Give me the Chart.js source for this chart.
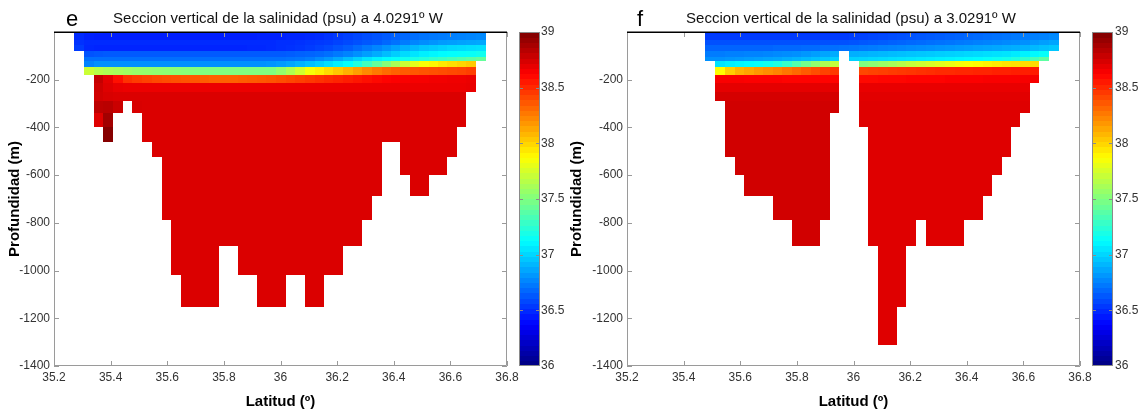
<!DOCTYPE html>
<html>
<head>
<meta charset="utf-8">
<title>Seccion vertical de la salinidad</title>
<script src="https://cdn.jsdelivr.net/npm/chart.js@4.4.1/dist/chart.umd.min.js"></script>
<style>
  html, body { margin: 0; padding: 0; background: #ffffff; }
  #wrap { position: relative; width: 1142px; height: 415px; overflow: hidden; background: #ffffff; }
  #wrap canvas { position: absolute; top: 0; display: block; }
</style>
</head>
<body>
<div id="wrap">
  <canvas id="panelE" width="566" height="415" style="left:0px"></canvas>
  <canvas id="panelF" width="576" height="415" style="left:566px"></canvas>
</div>
<script>
const _ = null;

// latitude cell edges (deg N), same grid in both sections
const latEdges = [35.2717, 35.3060, 35.3413, 35.3741, 35.4095, 35.4434, 35.4755, 35.5116, 35.5462, 35.5801,
  35.6133, 35.6490, 35.6815, 35.7143, 35.7482, 35.7821, 35.8157, 35.8496, 35.8821, 35.9171,
  35.9503, 35.9845, 36.0185, 36.0527, 36.0880, 36.1202, 36.1523, 36.1866, 36.2198, 36.2558,
  36.2887, 36.3229, 36.3569, 36.3911, 36.4211, 36.4558, 36.4893, 36.5232, 36.5567, 36.5889,
  36.6232, 36.6567, 36.6921, 36.7242];

// depth cell edges (m)
const depthEdges = [0, 10, 32, 53, 78, 103, 123, 148, 180, 213, 251, 290, 340, 398, 461, 526, 600, 689, 787, 897, 1017, 1154, 1310];

const xTicks = [35.2, 35.4, 35.6, 35.8, 36, 36.2, 36.4, 36.6, 36.8];
const yTicks = [-1400, -1200, -1000, -800, -600, -400, -200];
const cbTicks = [36, 36.5, 37, 37.5, 38, 38.5, 39];
const panelLetters = ['e', 'f'];
const panelTitles = ['Seccion vertical de la salinidad (psu) a 4.0291º W', 'Seccion vertical de la salinidad (psu) a 3.0291º W'];
const axisTitles = ['Latitud (º)', 'Profundidad (m)'];

// salinity (psu), section e (4.0291 W): one row per depth cell, one value per latitude cell
const salE = [
[36.50,36.48,36.48,36.47,36.47,36.47,36.47,36.47,36.47,36.47, 36.47,36.47,36.47,36.47,36.47,36.47,36.47,36.47,36.47,36.47, 36.48,36.48,36.48,36.49,36.49,36.50,36.51,36.53,36.55,36.57, 36.59,36.61,36.63,36.65,36.67,36.69,36.70,36.71,36.72,36.73, 36.74,36.75,36.76],
[36.50,36.47,36.46,36.46,36.46,36.46,36.46,36.46,36.46,36.46, 36.46,36.46,36.46,36.46,36.46,36.46,36.46,36.46,36.46,36.47, 36.47,36.47,36.48,36.48,36.49,36.50,36.52,36.54,36.56,36.58, 36.60,36.62,36.64,36.66,36.68,36.70,36.72,36.73,36.74,36.75, 36.76,36.77,36.78],
[36.52,36.50,36.50,36.50,36.50,36.50,36.50,36.50,36.50,36.50, 36.50,36.50,36.50,36.50,36.50,36.50,36.50,36.50,36.50,36.50, 36.50,36.51,36.51,36.52,36.53,36.54,36.55,36.57,36.59,36.61, 36.63,36.65,36.68,36.71,36.74,36.77,36.79,36.81,36.83,36.84, 36.85,36.86,36.87],
[36.55,36.49,36.48,36.48,36.48,36.48,36.48,36.48,36.48,36.48, 36.48,36.48,36.48,36.48,36.48,36.48,36.48,36.48,36.49,36.49, 36.50,36.51,36.52,36.53,36.55,36.57,36.59,36.62,36.65,36.69, 36.73,36.77,36.81,36.85,36.89,36.92,36.95,36.97,36.99,37.01, 37.02,37.03,37.04],
[_,36.62,36.63,36.64,36.64,36.64,36.64,36.64,36.64,36.64, 36.64,36.64,36.64,36.64,36.64,36.64,36.64,36.64,36.64,36.64, 36.64,36.64,36.65,36.66,36.67,36.68,36.70,36.73,36.76,36.80, 36.84,36.88,36.93,36.98,37.02,37.05,37.08,37.10,37.12,37.13, 37.14,37.15,37.17],
[_,36.70,36.70,36.70,36.70,36.70,36.70,36.70,36.70,36.70, 36.70,36.70,36.70,36.70,36.70,36.70,36.70,36.70,36.70,36.70, 36.70,36.70,36.71,36.72,36.74,36.78,36.82,36.87,36.93,36.99, 37.05,37.09,37.12,37.14,37.17,37.20,37.23,37.27,37.30,37.33, 37.36,37.39,37.42],
[_,36.76,36.80,36.80,36.80,36.80,36.80,36.80,36.80,36.80, 36.80,36.80,36.80,36.80,36.80,36.80,36.80,36.80,36.80,36.80, 36.81,36.83,36.86,36.90,36.94,36.98,37.03,37.08,37.13,37.22, 37.32,37.42,37.52,37.62,37.72,37.80,37.86,37.90,37.94,37.97, 38.00,38.03,_],
[_,37.72,37.66,37.63,37.61,37.59,37.57,37.56,37.55,37.54, 37.53,37.52,37.51,37.50,37.50,37.50,37.50,37.50,37.50,37.50, 37.50,37.56,37.64,37.74,37.85,37.92,37.98,38.04,38.10,38.16, 38.22,38.27,38.31,38.34,38.36,38.37,38.38,38.39,38.40,38.41, 38.42,38.44,_],
[_,_,38.80,38.70,38.58,38.48,38.45,38.43,38.41,38.40, 38.39,38.38,38.37,38.35,38.34,38.34,38.34,38.35,38.36,38.37, 38.38,38.40,38.42,38.44,38.46,38.48,38.50,38.52,38.54,38.56, 38.58,38.60,38.62,38.63,38.64,38.65,38.65,38.66,38.66,38.67, 38.67,38.68,_],
[_,_,38.77,38.72,38.69,38.68,38.68,38.68,38.68,38.68, 38.68,38.68,38.68,38.68,38.68,38.68,38.68,38.68,38.68,38.68, 38.68,38.68,38.68,38.68,38.68,38.68,38.68,38.68,38.68,38.68, 38.68,38.68,38.68,38.68,38.68,38.68,38.68,38.68,38.68,38.68, 38.68,38.69,_],
[_,_,38.76,38.74,38.73,38.73,38.73,38.73,38.73,38.73, 38.73,38.73,38.73,38.73,38.73,38.73,38.73,38.73,38.73,38.73, 38.73,38.73,38.73,38.73,38.73,38.73,38.73,38.73,38.73,38.73, 38.73,38.73,38.73,38.73,38.73,38.73,38.73,38.73,38.73,38.73, 38.73,_,_],
[_,_,38.82,38.83,38.78,_,38.74,38.73,38.73,38.73, 38.73,38.73,38.73,38.73,38.73,38.73,38.73,38.73,38.73,38.73, 38.73,38.73,38.73,38.73,38.73,38.73,38.73,38.73,38.73,38.73, 38.73,38.73,38.73,38.73,38.73,38.73,38.73,38.73,38.73,38.73, 38.73,_,_],
[_,_,38.72,38.90,_,_,_,38.73,38.73,38.73, 38.73,38.73,38.73,38.73,38.73,38.73,38.73,38.73,38.73,38.73, 38.73,38.73,38.73,38.73,38.73,38.73,38.73,38.73,38.73,38.73, 38.73,38.73,38.73,38.73,38.73,38.73,38.73,38.73,38.73,38.73, 38.73,_,_],
[_,_,_,38.98,_,_,_,38.73,38.73,38.73, 38.73,38.73,38.73,38.73,38.73,38.73,38.73,38.73,38.73,38.73, 38.73,38.73,38.73,38.73,38.73,38.73,38.73,38.73,38.73,38.73, 38.73,38.73,38.73,38.73,38.73,38.73,38.73,38.73,38.73,38.73, _,_,_],
[_,_,_,_,_,_,_,_,38.73,38.73, 38.73,38.73,38.73,38.73,38.73,38.73,38.73,38.73,38.73,38.73, 38.73,38.73,38.73,38.73,38.73,38.73,38.73,38.73,38.73,38.73, 38.73,38.73,_,_,38.73,38.73,38.73,38.73,38.73,38.73, _,_,_],
[_,_,_,_,_,_,_,_,_,38.73, 38.73,38.73,38.73,38.73,38.73,38.73,38.73,38.73,38.73,38.73, 38.73,38.73,38.73,38.73,38.73,38.73,38.73,38.73,38.73,38.73, 38.73,38.73,_,_,38.73,38.73,38.73,38.73,38.73,_, _,_,_],
[_,_,_,_,_,_,_,_,_,38.73, 38.73,38.73,38.73,38.73,38.73,38.73,38.73,38.73,38.73,38.73, 38.73,38.73,38.73,38.73,38.73,38.73,38.73,38.73,38.73,38.73, 38.73,38.73,_,_,_,38.73,38.73,_,_,_, _,_,_],
[_,_,_,_,_,_,_,_,_,38.73, 38.73,38.73,38.73,38.73,38.73,38.73,38.73,38.73,38.73,38.73, 38.73,38.73,38.73,38.73,38.73,38.73,38.73,38.73,38.73,38.73, 38.73,_,_,_,_,_,_,_,_,_, _,_,_],
[_,_,_,_,_,_,_,_,_,_, 38.73,38.73,38.73,38.73,38.73,38.73,38.73,38.73,38.73,38.73, 38.73,38.73,38.73,38.73,38.73,38.73,38.73,38.73,38.73,38.73, _,_,_,_,_,_,_,_,_,_, _,_,_],
[_,_,_,_,_,_,_,_,_,_, 38.73,38.73,38.73,38.73,38.73,_,_,38.73,38.73,38.73, 38.73,38.73,38.73,38.73,38.73,38.73,38.73,38.73,_,_, _,_,_,_,_,_,_,_,_,_, _,_,_],
[_,_,_,_,_,_,_,_,_,_, _,38.73,38.73,38.73,38.73,_,_,_,_,38.73, 38.73,38.73,_,_,38.73,38.73,_,_,_,_, _,_,_,_,_,_,_,_,_,_, _,_,_],
[_,_,_,_,_,_,_,_,_,_, _,_,_,_,_,_,_,_,_,_, _,_,_,_,_,_,_,_,_,_, _,_,_,_,_,_,_,_,_,_, _,_,_]
];

// salinity (psu), section f (3.0291 W)
const salF = [
[_,_,_,_,_,_,36.53,36.52,36.52,36.52, 36.52,36.52,36.52,36.52,36.52,36.52,36.52,36.52,36.52,36.52, 36.52,36.53,36.53,36.54,36.55,36.56,36.57,36.58,36.59,36.60, 36.61,36.62,36.63,36.64,36.65,36.66,36.67,36.68,36.69,36.70, 36.71,36.72,36.74],
[_,_,_,_,_,_,36.55,36.55,36.55,36.55, 36.55,36.55,36.55,36.55,36.55,36.55,36.55,36.55,36.55,36.55, 36.55,36.56,36.57,36.58,36.59,36.60,36.61,36.62,36.63,36.64, 36.65,36.66,36.67,36.68,36.69,36.70,36.71,36.72,36.73,36.74, 36.75,36.76,36.78],
[_,_,_,_,_,_,36.61,36.61,36.61,36.61, 36.61,36.61,36.61,36.61,36.61,36.61,36.61,36.61,36.61,36.61, 36.61,36.62,36.63,36.64,36.65,36.66,36.67,36.68,36.69,36.70, 36.71,36.72,36.73,36.74,36.75,36.76,36.77,36.78,36.79,36.80, 36.82,36.84,36.86],
[_,_,_,_,_,_,36.67,36.67,36.67,36.67, 36.67,36.67,36.67,36.68,36.68,36.68,36.69,36.69,36.70,36.70, 36.71,36.72,36.73,36.74,36.75,36.76,36.77,36.78,36.79,36.80, 36.81,36.82,36.83,36.84,36.85,36.86,36.87,36.88,36.89,36.90, 36.92,36.94,36.96],
[_,_,_,_,_,_,36.74,36.74,36.75,36.75, 36.76,36.76,36.77,36.78,36.79,36.80,36.82,36.84,36.86,36.88, _,36.89,36.90,36.91,36.92,36.93,36.94,36.95,36.96,36.97, 36.98,36.99,37.00,37.01,37.02,37.03,37.04,37.05,37.07,37.09, 37.11,37.14,_],
[_,_,_,_,_,_,36.80,36.80,36.81,36.82, 36.83,36.84,36.85,36.86,36.88,36.90,36.92,36.94,36.96,36.98, _,36.99,37.00,37.01,37.02,37.03,37.04,37.05,37.06,37.07, 37.08,37.09,37.10,37.11,37.12,37.14,37.16,37.18,37.22,37.27, 37.33,37.40,_],
[_,_,_,_,_,_,_,37.05,37.08,37.10, 37.12,37.14,37.17,37.21,37.28,37.37,37.46,37.55,37.63,37.70, _,_,37.50,37.54,37.58,37.62,37.66,37.70,37.73,37.76, 37.79,37.82,37.85,37.87,37.89,37.91,37.93,37.95,37.96,37.97, 37.98,_,_],
[_,_,_,_,_,_,_,37.88,38.02,38.10, 38.14,38.18,38.21,38.24,38.28,38.32,38.36,38.40,38.43,38.46, _,_,38.42,38.43,38.44,38.45,38.46,38.47,38.48,38.49, 38.50,38.50,38.51,38.51,38.52,38.52,38.53,38.53,38.54,38.54, 38.55,_,_],
[_,_,_,_,_,_,_,38.64,38.64,38.64, 38.63,38.63,38.63,38.63,38.62,38.62,38.62,38.62,38.62,38.62, _,_,38.60,38.60,38.61,38.61,38.61,38.62,38.62,38.62, 38.62,38.63,38.63,38.63,38.63,38.64,38.64,38.64,38.64,38.65, 38.65,_,_],
[_,_,_,_,_,_,_,38.70,38.70,38.70, 38.70,38.70,38.70,38.70,38.70,38.70,38.70,38.70,38.70,38.70, _,_,38.69,38.69,38.69,38.69,38.69,38.69,38.69,38.69, 38.69,38.69,38.69,38.69,38.69,38.69,38.69,38.69,38.69,38.69, _,_,_],
[_,_,_,_,_,_,_,38.75,38.75,38.75, 38.75,38.75,38.75,38.75,38.75,38.75,38.75,38.75,38.75,38.75, _,_,38.71,38.71,38.71,38.71,38.71,38.71,38.71,38.71, 38.71,38.71,38.71,38.71,38.71,38.71,38.71,38.71,38.71,38.71, _,_,_],
[_,_,_,_,_,_,_,_,38.76,38.76, 38.76,38.76,38.76,38.76,38.76,38.76,38.76,38.76,38.76,38.76, _,_,38.72,38.72,38.72,38.72,38.72,38.72,38.72,38.72, 38.72,38.72,38.72,38.72,38.72,38.72,38.72,38.72,38.72,38.72, _,_,_],
[_,_,_,_,_,_,_,_,38.76,38.76, 38.76,38.76,38.76,38.76,38.76,38.76,38.76,38.76,38.76,_, _,_,38.72,38.72,38.72,38.72,38.72,38.72,38.72,38.72, 38.72,38.72,38.72,38.72,38.72,38.72,38.72,38.72,38.72,_, _,_,_],
[_,_,_,_,_,_,_,_,38.76,38.76, 38.76,38.76,38.76,38.76,38.76,38.76,38.76,38.76,38.76,_, _,_,_,38.72,38.72,38.72,38.72,38.72,38.72,38.72, 38.72,38.72,38.72,38.72,38.72,38.72,38.72,38.72,_,_, _,_,_],
[_,_,_,_,_,_,_,_,38.76,38.76, 38.76,38.76,38.76,38.76,38.76,38.76,38.76,38.76,38.76,_, _,_,_,38.72,38.72,38.72,38.72,38.72,38.72,38.72, 38.72,38.72,38.72,38.72,38.72,38.72,38.72,38.72,_,_, _,_,_],
[_,_,_,_,_,_,_,_,_,38.76, 38.76,38.76,38.76,38.76,38.76,38.76,38.76,38.76,38.76,_, _,_,_,38.72,38.72,38.72,38.72,38.72,38.72,38.72, 38.72,38.72,38.72,38.72,38.72,38.72,38.72,_,_,_, _,_,_],
[_,_,_,_,_,_,_,_,_,_, 38.76,38.76,38.76,38.76,38.76,38.76,38.76,38.76,38.76,_, _,_,_,38.72,38.72,38.72,38.72,38.72,38.72,38.72, 38.72,38.72,38.72,38.72,38.72,38.72,_,_,_,_, _,_,_],
[_,_,_,_,_,_,_,_,_,_, _,_,_,38.76,38.76,38.76,38.76,38.76,38.76,_, _,_,_,38.72,38.72,38.72,38.72,38.72,38.72,38.72, 38.72,38.72,38.72,38.72,38.72,_,_,_,_,_, _,_,_],
[_,_,_,_,_,_,_,_,_,_, _,_,_,_,_,38.76,38.76,38.76,_,_, _,_,_,38.72,38.72,38.72,38.72,38.72,_,38.72, 38.72,38.72,38.72,_,_,_,_,_,_,_, _,_,_],
[_,_,_,_,_,_,_,_,_,_, _,_,_,_,_,_,_,_,_,_, _,_,_,_,38.72,38.72,38.72,_,_,_, _,_,_,_,_,_,_,_,_,_, _,_,_],
[_,_,_,_,_,_,_,_,_,_, _,_,_,_,_,_,_,_,_,_, _,_,_,_,38.72,38.72,38.72,_,_,_, _,_,_,_,_,_,_,_,_,_, _,_,_],
[_,_,_,_,_,_,_,_,_,_, _,_,_,_,_,_,_,_,_,_, _,_,_,_,38.72,38.72,_,_,_,_, _,_,_,_,_,_,_,_,_,_, _,_,_]
];

const FONT = "'Liberation Sans', Arial, Helvetica, sans-serif";
Chart.defaults.font.family = FONT;

// MATLAB-style jet colour map, clim = [36, 39]
function jet(v) {
  const lo = cbTicks[0], hi = cbTicks[cbTicks.length - 1];
  const t = Math.max(0, Math.min(1, (v - lo) / (hi - lo)));
  const f = k => Math.round(255 * Math.max(0, Math.min(1, 1.5 - Math.abs(4 * t - k))));
  return 'rgb(' + f(3) + ',' + f(2) + ',' + f(1) + ')';
}

const sectionPlugin = {
  id: 'section',
  beforeDatasetsDraw(chart) {
    const { ctx, chartArea: a, scales: { x, y } } = chart;
    ctx.save();
    ctx.beginPath();
    ctx.rect(a.left, a.top, a.right - a.left, a.bottom - a.top);
    ctx.clip();
    for (const p of chart.data.datasets[0].data) {
      const x0 = Math.round(x.getPixelForValue(latEdges[p.c]));
      const x1 = Math.round(x.getPixelForValue(latEdges[p.c + 1]));
      const y0 = Math.round(y.getPixelForValue(-depthEdges[p.r]));
      const y1 = Math.round(y.getPixelForValue(-depthEdges[p.r + 1]));
      ctx.fillStyle = jet(p.v);
      ctx.fillRect(x0, y0, x1 - x0, y1 - y0);
    }
    ctx.restore();
  },
  afterDraw(chart, args, o) {
    const { ctx, chartArea: a, scales: { x, y, cb } } = chart;
    ctx.save();
    // axes box (grey) with inward ticks
    ctx.strokeStyle = '#9a9a9a';
    ctx.lineWidth = 1;
    ctx.beginPath();
    ctx.moveTo(a.left + 0.5, a.top);
    ctx.lineTo(a.left + 0.5, a.bottom - 0.5);
    ctx.lineTo(a.right - 0.5, a.bottom - 0.5);
    ctx.lineTo(a.right - 0.5, a.top);
    xTicks.forEach(v => {
      const px = Math.round(x.getPixelForValue(v)) + 0.5;
      ctx.moveTo(px, a.bottom); ctx.lineTo(px, a.bottom - 5);
      ctx.moveTo(px, a.top); ctx.lineTo(px, a.top + 5);
    });
    yTicks.forEach(v => {
      const py = Math.round(y.getPixelForValue(v)) + 0.5;
      ctx.moveTo(a.left, py); ctx.lineTo(a.left + 5, py);
      ctx.moveTo(a.right, py); ctx.lineTo(a.right - 5, py);
    });
    ctx.stroke();
    // top border (black)
    ctx.strokeStyle = '#000';
    ctx.lineWidth = 1.5;
    ctx.beginPath();
    ctx.moveTo(a.left, a.top + 0.25);
    ctx.lineTo(a.right, a.top + 0.25);
    ctx.stroke();

    // colour bar
    const lo = cbTicks[0], hi = cbTicks[cbTicks.length - 1], n = 64;
    for (let i = 0; i < n; i++) {
      const v0 = lo + (hi - lo) * i / n, v1 = lo + (hi - lo) * (i + 1) / n;
      const yA = cb.getPixelForValue(v1), yB = cb.getPixelForValue(v0);
      ctx.fillStyle = jet((v0 + v1) / 2);
      ctx.fillRect(o.cbLeft, Math.floor(yA), o.cbRight - o.cbLeft, Math.ceil(yB) - Math.floor(yA));
    }
    ctx.strokeStyle = '#8a8a8a';
    ctx.lineWidth = 1;
    const cTop = Math.round(cb.getPixelForValue(hi)), cBot = Math.round(cb.getPixelForValue(lo));
    ctx.strokeRect(o.cbLeft + 0.5, cTop + 0.5, o.cbRight - o.cbLeft - 1, cBot - cTop - 1);
    ctx.beginPath();
    cbTicks.slice(1, -1).forEach(v => {
      const py = Math.round(cb.getPixelForValue(v)) + 0.5;
      ctx.moveTo(o.cbLeft, py); ctx.lineTo(o.cbLeft + 4, py);
      ctx.moveTo(o.cbRight, py); ctx.lineTo(o.cbRight - 4, py);
    });
    ctx.stroke();

    // panel letter and title
    ctx.fillStyle = '#000';
    ctx.textBaseline = 'alphabetic';
    ctx.textAlign = 'left';
    ctx.font = '22px ' + FONT;
    ctx.fillText(o.letter, o.letterX, 26);
    ctx.textAlign = 'center';
    ctx.font = '15px ' + FONT;
    ctx.fillStyle = '#111';
    ctx.fillText(o.title, o.titleX, 23);
    ctx.restore();
  }
};

function makePanel(id, sal, idx, g) {
  if (sal.length !== depthEdges.length - 1) throw new Error(id + ': wrong row count ' + sal.length);
  const cells = [];
  sal.forEach((row, r) => {
    if (row.length !== latEdges.length - 1) throw new Error(id + ': row ' + r + ' has ' + row.length + ' values');
    row.forEach((v, c) => {
      if (v !== null) {
        cells.push({ x: (latEdges[c] + latEdges[c + 1]) / 2, y: -(depthEdges[r] + depthEdges[r + 1]) / 2, r: r, c: c, v: v });
      }
    });
  });
  const tickFont = { family: FONT, size: 12 };
  const titleFont = { family: FONT, size: 15, weight: 'bold' };
  const noVPad = s => { s.paddingTop = 0; s.paddingBottom = 0; };
  return new Chart(document.getElementById(id), {
    type: 'scatter',
    data: { datasets: [{ data: cells, pointRadius: 0, pointHoverRadius: 0, showLine: false }] },
    options: {
      responsive: false,
      animation: false,
      devicePixelRatio: 1,
      events: [],
      layout: { padding: { left: 0, right: 0, top: 32, bottom: 0 } },
      plugins: {
        legend: { display: false },
        tooltip: { enabled: false },
        section: { letter: panelLetters[idx], title: panelTitles[idx], letterX: g.letterX, titleX: g.titleX, cbLeft: g.cbLeft, cbRight: g.cbRight }
      },
      scales: {
        x: {
          type: 'linear', position: 'bottom',
          min: xTicks[0], max: xTicks[xTicks.length - 1],
          afterBuildTicks: s => { s.ticks = xTicks.map(value => ({ value })); },
          afterFit: s => { s.height = 49; s.paddingLeft = 0; s.paddingRight = 0; },
          grid: { display: false, drawTicks: false },
          border: { display: false },
          ticks: { padding: 4, color: '#333', font: tickFont, maxRotation: 0, autoSkip: false, callback: v => String(Math.round(v * 10) / 10) },
          title: { display: true, text: axisTitles[0], color: '#000', font: titleFont, padding: { top: 0, bottom: 4 } }
        },
        y: {
          type: 'linear', position: 'left',
          min: -1400, max: 0,
          afterBuildTicks: s => { s.ticks = yTicks.map(value => ({ value })); },
          afterFit: s => { s.width = g.left; noVPad(s); },
          grid: { display: false, drawTicks: false },
          border: { display: false },
          ticks: { padding: 4, color: '#333', font: tickFont, autoSkip: false, callback: v => String(v) },
          title: { display: true, text: axisTitles[1], color: '#000', font: titleFont, padding: { top: g.yTitlePad, bottom: 0 } }
        },
        cb: {
          type: 'linear', position: 'right',
          min: cbTicks[0], max: cbTicks[cbTicks.length - 1],
          afterBuildTicks: s => { s.ticks = cbTicks.map(value => ({ value })); },
          afterFit: s => { s.width = g.width - g.right; noVPad(s); },
          grid: { display: false, drawTicks: false },
          border: { display: false },
          ticks: { padding: g.cbPad, color: '#333', font: tickFont, autoSkip: false, callback: v => String(v) }
        }
      }
    },
    plugins: [sectionPlugin]
  });
}

makePanel('panelE', salE, 0, { width: 566, left: 54, right: 507, cbLeft: 519, cbRight: 540, cbPad: 34, letterX: 66, titleX: 278, yTitlePad: 6 });
makePanel('panelF', salF, 1, { width: 576, left: 61, right: 514, cbLeft: 526, cbRight: 547, cbPad: 35, letterX: 71, titleX: 285, yTitlePad: 2 });
</script>
</body>
</html>
